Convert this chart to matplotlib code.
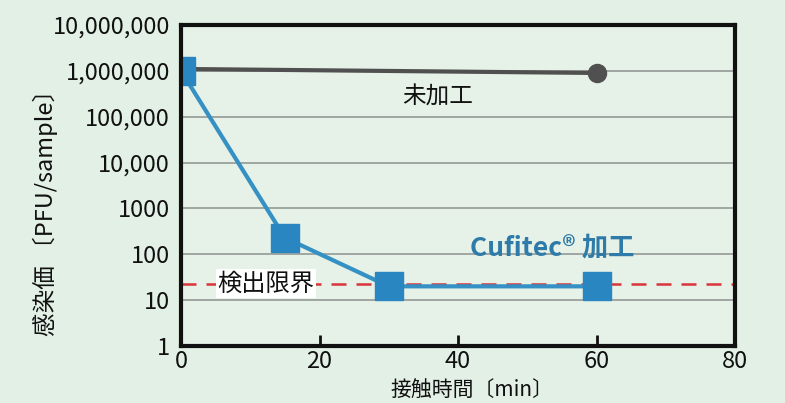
import matplotlib
matplotlib.use("Agg")
import matplotlib.pyplot as plt
from matplotlib.ticker import FixedLocator, NullLocator

plt.rcParams['font.family'] = ['Noto Sans CJK JP', 'DejaVu Sans']

# Data
untreated_t = [0, 60]
untreated_v = [1100000, 900000]
cufitec_t = [0, 15, 30, 60]
cufitec_v = [1000000, 230, 20, 20]
detection_limit = 23
ytick_vals = [1, 10, 100, 1000, 10000, 100000, 1000000, 10000000]
ytick_labels = ['1', '10', '100', '1000', '10,000', '100,000', '1,000,000', '10,000,000']
xtick_vals = [0, 20, 40, 60, 80]

bg = '#e3f0e5'
blue = '#2a86c0'
fig = plt.figure(figsize=(7.85, 4.03), dpi=100, facecolor=bg)
ax = fig.add_axes([181/785, 1-346/403, (735-181)/785, (346-25)/403])
ax.set_facecolor('#e6f2e8')
ax.set_yscale('log')
ax.set_xlim(0, 80)
ax.set_ylim(1, 1e7)

for v in ytick_vals[1:-1]:
    ax.axhline(v, color='#949894', lw=1.2, zorder=1)

ax.axhline(detection_limit, color='#d8343a', lw=1.8, dashes=(6, 4), zorder=2)

ax.plot(untreated_t, untreated_v, color='#505050', lw=3, marker='o', ms=13,
        zorder=3, solid_capstyle='butt')
ax.plot(cufitec_t, cufitec_v, color='#3590c4', lw=3, zorder=4)
ax.plot(cufitec_t, cufitec_v, ls='none', marker='s', ms=20, color=blue, zorder=5)

ax.yaxis.set_major_locator(FixedLocator(ytick_vals))
ax.yaxis.set_minor_locator(NullLocator())
ax.set_yticks(ytick_vals)
ax.set_yticklabels(ytick_labels)
ax.set_xticks(xtick_vals)
ax.tick_params(axis='y', length=0, labelsize=17, pad=8, colors='#111111')
ax.tick_params(axis='x', direction='in', length=8, width=2, labelsize=17, pad=3,
               colors='#111111')
for s in ax.spines.values():
    s.set_linewidth(3)
    s.set_color('#111111')
    s.set_zorder(7)

ax.text(37, 2.7e5, '未加工', fontsize=17, ha='center', va='center', color='#111111')
ax.text(53.6, 138, 'Cufitec® 加工', fontsize=19, ha='center', va='center',
        color='#2e7aa8', fontweight='bold')
ax.text(12.3, detection_limit, '検出限界', fontsize=17.5, ha='center', va='center',
        color='#111111', zorder=6,
        bbox=dict(facecolor='white', edgecolor='none', pad=1.0))

ax.set_xlabel('接触時間〔min〕', fontsize=15, color='#111111')
ax.xaxis.set_label_coords((472-181)/554, -(390-346)/321)
ax.xaxis.label.set_va('center')
ax.set_ylabel('感染価 〔PFU/sample〕', fontsize=17, color='#111111')
ax.yaxis.set_label_coords(-(181-45)/554, (346-207)/321)
ax.yaxis.label.set_va('center')

fig.savefig('out.png', dpi=100, facecolor=bg)
